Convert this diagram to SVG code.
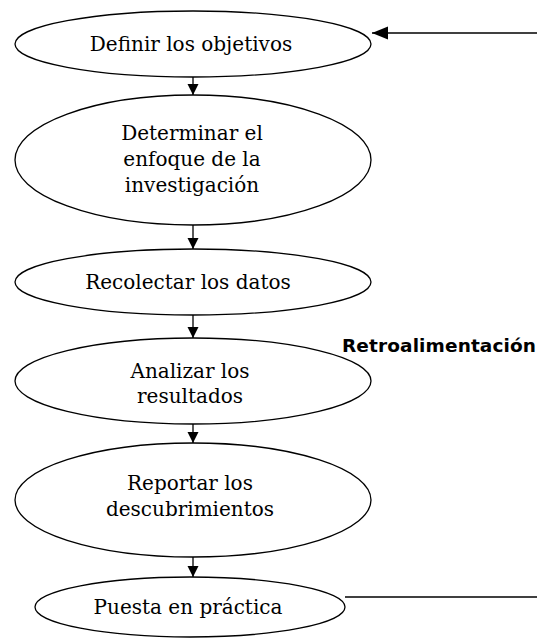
<svg xmlns="http://www.w3.org/2000/svg" width="537" height="639" viewBox="0 0 537 639">
<style>
.node ellipse{fill:#fff;stroke:#000;stroke-width:1.3}
.node text{font-family:"DejaVu Serif","Liberation Serif",serif;font-size:20px;fill:#000;text-anchor:middle}
.conn line{stroke:#000;stroke-width:1.3}
.lbl{font-family:"DejaVu Sans","Liberation Sans",sans-serif;font-weight:bold;font-size:18.5px;fill:#000}
</style>
<defs>
<marker id="ah" markerUnits="userSpaceOnUse" markerWidth="12" markerHeight="12" refX="11" refY="6" orient="auto" viewBox="0 0 12 12">
<path d="M0,0.5 L11,6 L0,11.5 Z" fill="#000"/>
</marker>
<marker id="ahBig" markerUnits="userSpaceOnUse" markerWidth="17" markerHeight="14" refX="16" refY="7" orient="auto" viewBox="0 0 17 14">
<path d="M0,0.5 L16,7 L0,13.5 Z" fill="#000"/>
</marker>
</defs>
<rect width="537" height="639" fill="#fff"/>
<g id="n1" class="node"><ellipse cx="193" cy="44" rx="178" ry="33"/><text x="191" y="51">Definir los objetivos</text></g>
<g id="n2" class="node"><ellipse cx="193" cy="160" rx="178" ry="65"/><text x="192" y="140">Determinar el</text><text x="192" y="166">enfoque de la</text><text x="192" y="192">investigación</text></g>
<g id="n3" class="node"><ellipse cx="193" cy="282" rx="178" ry="33"/><text x="188" y="289">Recolectar los datos</text></g>
<g id="n4" class="node"><ellipse cx="193" cy="381" rx="178" ry="43"/><text x="190" y="378">Analizar los</text><text x="190" y="403">resultados</text></g>
<g id="n5" class="node"><ellipse cx="193" cy="500" rx="178" ry="57"/><text x="190" y="490">Reportar los</text><text x="190" y="516">descubrimientos</text></g>
<g id="n6" class="node"><ellipse cx="190" cy="607" rx="155" ry="30"/><text x="188" y="614">Puesta en práctica</text></g>
<g id="connectors" class="conn">
<line x1="193" y1="77" x2="193" y2="95" marker-end="url(#ah)"/>
<line x1="193" y1="225" x2="193" y2="249" marker-end="url(#ah)"/>
<line x1="193" y1="315" x2="193" y2="338" marker-end="url(#ah)"/>
<line x1="193" y1="424" x2="193" y2="443" marker-end="url(#ah)"/>
<line x1="193" y1="557" x2="193" y2="577" marker-end="url(#ah)"/>
<line x1="345" y1="597" x2="537" y2="597"/>
<line x1="537" y1="33" x2="372" y2="33" marker-end="url(#ahBig)"/>
</g>
<text class="lbl" x="342" y="352" textLength="194" lengthAdjust="spacing">Retroalimentación</text>
</svg>
